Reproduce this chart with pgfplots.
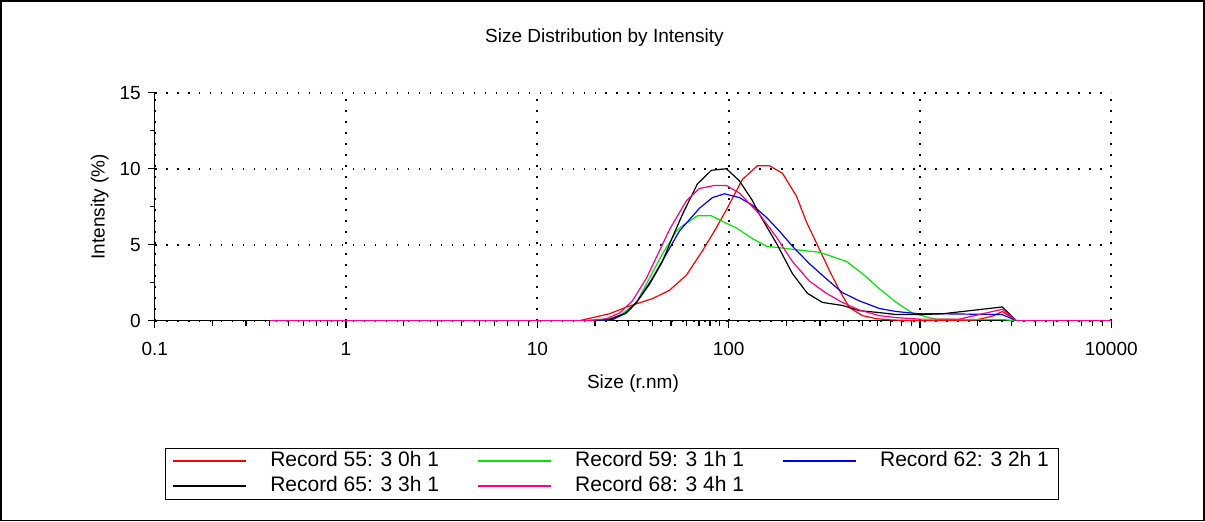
\documentclass[border=0pt]{standalone}
\usepackage{pgfplots}
\pgfplotsset{compat=1.18}
\usepackage{fontspec}
\setmainfont{Liberation Sans}
\definecolor{cred}{RGB}{255,0,0}
\definecolor{cgreen}{RGB}{0,230,0}
\definecolor{cblue}{RGB}{0,0,255}
\definecolor{cblack}{RGB}{0,0,0}
\definecolor{cpink}{RGB}{255,0,128}
\begin{document}
\begin{tikzpicture}
\draw[black, line width=0.8pt] (-77pt,-100pt) rectangle (525pt,160pt);
\node[font=\fontsize{9.5}{11}\selectfont] at (225pt,141.5pt) {Size Distribution by Intensity};
\begin{axis}[
  at={(0,0)}, anchor=south west,
  scale only axis, width=478.5pt, height=114pt,
  xmode=log, xmin=0.1, xmax=10000, ymin=0, ymax=15,
  xtick={0.1,1,10,100,1000,10000},
  xticklabels={0.1,1,10,100,1000,10000},
  minor xtick={0.2,0.3,0.4,0.5,0.6,0.7,0.8,0.9,2,3,4,5,6,7,8,9,20,30,40,50,60,70,80,90,200,300,400,500,600,700,800,900,2000,3000,4000,5000,6000,7000,8000,9000},
  ytick={0,5,10,15}, minor ytick={2.5,7.5,12.5},
  axis lines=left, axis line style={-, line width=0.7pt},
  tick align=outside, major tick length=3.5pt, minor tick length=2.5pt,
  tick style={black, line width=0.6pt},
  xmajorgrids, ymajorgrids,
  major grid style={black, line width=0.9pt, dash pattern=on 0.9pt off 4.6pt, line cap=butt},
  /pgf/number format/assume math mode=true,
  tick label style={font=\fontsize{9.5}{11}\selectfont},
  xticklabel style={yshift=-4pt},
  label style={font=\fontsize{9.5}{11}\selectfont},
  xlabel={Size (r.nm)}, ylabel={Intensity (\%)},
  xlabel style={at={(axis description cs:0.5,-0.276)}, anchor=center},
  ylabel style={at={(axis description cs:-0.0575,0.5)}, anchor=center},
  legend columns=3,
  legend style={at={(axis description cs:0.01045,-0.557)}, anchor=north west,
    font=\fontsize{10.5}{12}\selectfont,
    inner xsep=3.5pt, inner ysep=0.75pt,
    nodes={inner sep=1pt, text height=7.5pt, text depth=2pt},
    cells={anchor=west}, row sep=1pt,
    /tikz/every odd column/.append style={column sep=11pt},
    /tikz/every even column/.append style={column sep=18pt}},
  legend image code/.code={\draw[#1] (0pt,0pt) -- (36.5pt,0pt);},
  every axis plot/.append style={line width=0.6pt},
]
\addplot[color=cred, draw=cred] coordinates {(0.4,0) (16.6,0) (18.7,0.15) (23.8,0.45) (29.6,0.92) (40.0,1.45) (49.1,2.0) (60.2,3.0) (73.0,4.6) (84.3,5.9) (97.4,7.3) (118.1,9.3) (141.4,10.2) (163.4,10.2) (191.1,9.7) (226.1,8.2) (255.0,6.5) (298.2,4.7) (336.3,3.3) (379.3,2.0) (427.7,0.86) (500.1,0.33) (591.8,0.13) (700,0.05) (900,0) (1500,0) (1971,0.05) (2400,0.3) (2695,0.6) (3189,0) (10000,0)};
\addlegendentry{Record 55: 3 0h 1}
\addplot[color=cgreen, draw=cgreen] coordinates {(0.4,0) (18.7,0) (24.4,0.07) (27.9,0.45) (33.0,1.2) (38.6,2.8) (45.1,4.4) (53.4,5.9) (57.4,6.25) (68.7,6.9) (81.3,6.9) (97.4,6.4) (109.9,6.1) (133.2,5.4) (157.6,4.9) (215.4,4.7) (298.2,4.5) (412.6,3.9) (500.1,3.1) (613.6,2.1) (752.8,1.2) (912.8,0.5) (1119,0.2) (1218,0.1) (1600,0.08) (2695,0.07) (3189,0) (10000,0)};
\addlegendentry{Record 59: 3 1h 1}
\addplot[color=cblue, draw=cblue] coordinates {(0.4,0) (18.7,0) (24.7,0.07) (28.6,0.45) (33.0,1.2) (40.0,2.8) (47.3,4.4) (55.3,5.9) (70.4,7.4) (82.3,8.1) (95.1,8.35) (113.9,8.1) (133.2,7.6) (157.6,6.8) (184.2,5.9) (215.4,4.9) (264.4,3.75) (324.3,2.75) (393.2,1.85) (482.4,1.3) (613.6,0.8) (752.8,0.6) (993,0.45) (1309,0.45) (2695,0.4) (3189,0) (10000,0)};
\addlegendentry{Record 62: 3 2h 1}
\addplot[color=cblack, draw=cblack] coordinates {(0.4,0) (18.7,0) (23.8,0.1) (29.2,0.5) (33.0,1.2) (38.6,2.4) (45.1,3.9) (50.9,5.5) (57.4,7.0) (68.7,9.0) (81.3,9.9) (97.4,10.0) (113.9,9.2) (133.2,7.9) (144.9,7.0) (177.7,5.1) (215.4,3.1) (258.0,1.8) (309.2,1.2) (393.2,1.0) (482.4,0.66) (613.6,0.53) (752.8,0.4) (993,0.4) (1309,0.45) (2695,0.9) (3189,0) (10000,0)};
\addlegendentry{Record 65: 3 3h 1}
\addplot[color=cpink, draw=cpink] coordinates {(0.4,0) (18.7,0) (23.0,0.13) (26.9,0.5) (31.4,1.3) (37.2,2.8) (43.5,4.6) (49.1,6.0) (60.2,7.9) (70.4,8.7) (84.3,8.9) (97.4,8.9) (113.9,8.4) (144.9,7.0) (177.7,5.5) (215.4,3.9) (264.4,2.6) (324.3,1.8) (393.2,1.2) (482.4,0.7) (613.6,0.33) (752.8,0.2) (993,0.1) (1607,0.1) (2695,0.75) (3189,0) (10000,0)};
\addlegendentry{Record 68: 3 4h 1}
\end{axis}
\end{tikzpicture}
\end{document}
